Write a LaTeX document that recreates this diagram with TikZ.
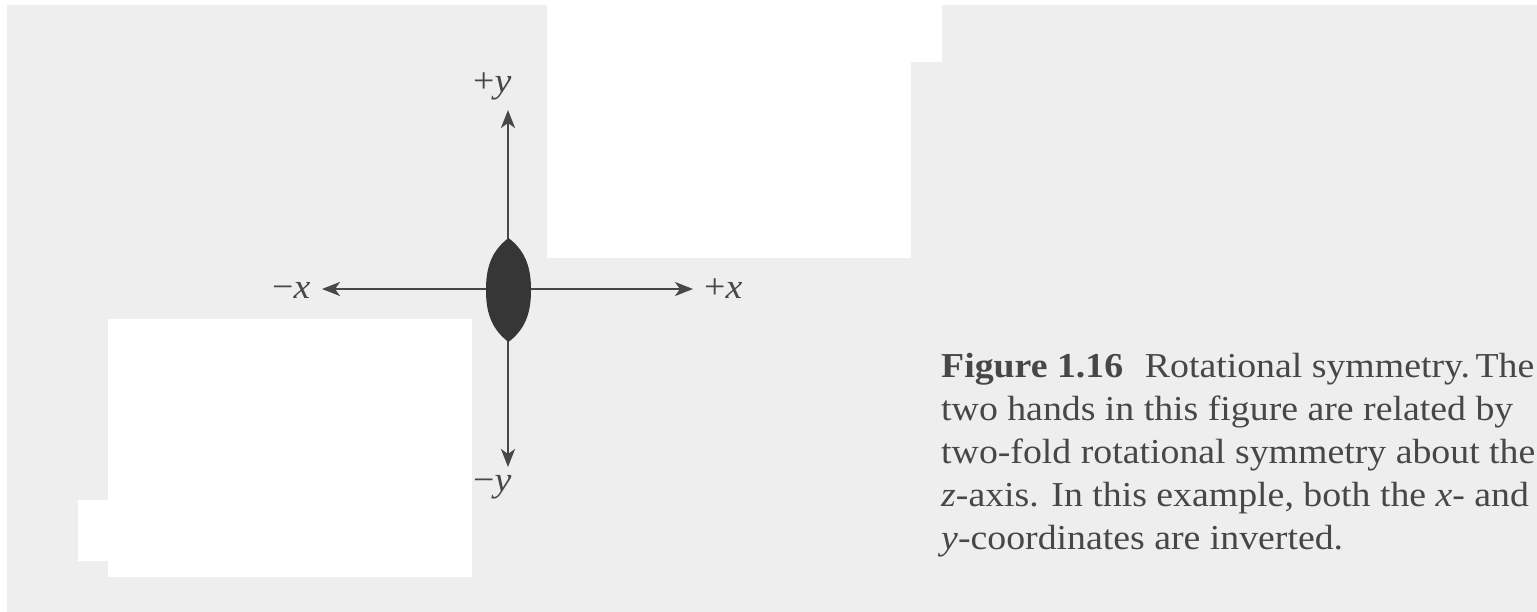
\documentclass[tikz,border=0pt]{standalone}
\usepackage{fontspec}
\setmainfont{Liberation Serif}[FakeStretch=1.08]
\usetikzlibrary{arrows.meta}
\definecolor{paper}{HTML}{EEEEEE}
\definecolor{ink}{HTML}{474747}
\definecolor{lens}{HTML}{363636}
\tikzset{
  axis/.style={draw=ink, line width=2.5pt, -{Stealth[length=18pt,width=14pt,inset=5pt]}},
  axlabel/.style={text=ink, inner sep=0pt, font=\fontsize{35}{40}\selectfont, anchor=base west},
  captext/.style={text=ink, inner sep=0pt, font=\fontsize{35}{43}\selectfont, align=left, anchor=base west},
  blank/.style={fill=white, draw=none}
}
\begin{document}
\begin{tikzpicture}[x=1pt,y=-1pt]
\useasboundingbox (0,0) rectangle (1537,612);
\fill[paper] (0,0) rectangle (1537,612);
% white strips and blanked regions
\fill[blank] (0,0) rectangle (7,612);
\fill[blank] (0,0) rectangle (1537,5);
\fill[blank] (547,5) rectangle (911,258);
\fill[blank] (547,5) rectangle (942,62);
\fill[blank] (108,319) rectangle (472,577);
\fill[blank] (78,500) rectangle (108,561);
% axes
\coordinate (O) at (508,289);
\coordinate (ty) at (508,110);
\coordinate (by) at (508,467);
\coordinate (lx) at (322,289);
\coordinate (rx) at (693,289);
\draw[axis] (O) -- (ty);
\draw[axis] (O) -- (by);
\draw[axis] (O) -- (lx);
\draw[axis] (O) -- (rx);
% lens-shaped rotation axis marker
\fill[lens] (508.5,238) .. controls (527,252) and (531,270) .. (531,290)
  .. controls (531,310) and (527,328) .. (508.5,342)
  .. controls (490,328) and (486,310) .. (486,290)
  .. controls (486,270) and (490,252) .. (508.5,238) -- cycle;
% axis labels
\node[axlabel] (py) at (473,93) {+\textit{y}};
\node[axlabel] (my) at (473,491) {−\textit{y}};
\node[axlabel] (mx) at (272,299) {−\textit{x}};
\node[axlabel] (px) at (704,299) {+\textit{x}};
% caption (base anchor = baseline of the last line)
\node[captext] (cap) at (941,549) {\textbf{Figure 1.16}\hspace{0.62em}Rotational symmetry.\hspace{0.16em}The\\
two hands in this figure are related by\\
two-fold rotational symmetry about the\\
\textit{z}-axis. In this example, both the \textit{x}- and\\
\textit{y}-coordinates are inverted.};
\end{tikzpicture}
\end{document}
